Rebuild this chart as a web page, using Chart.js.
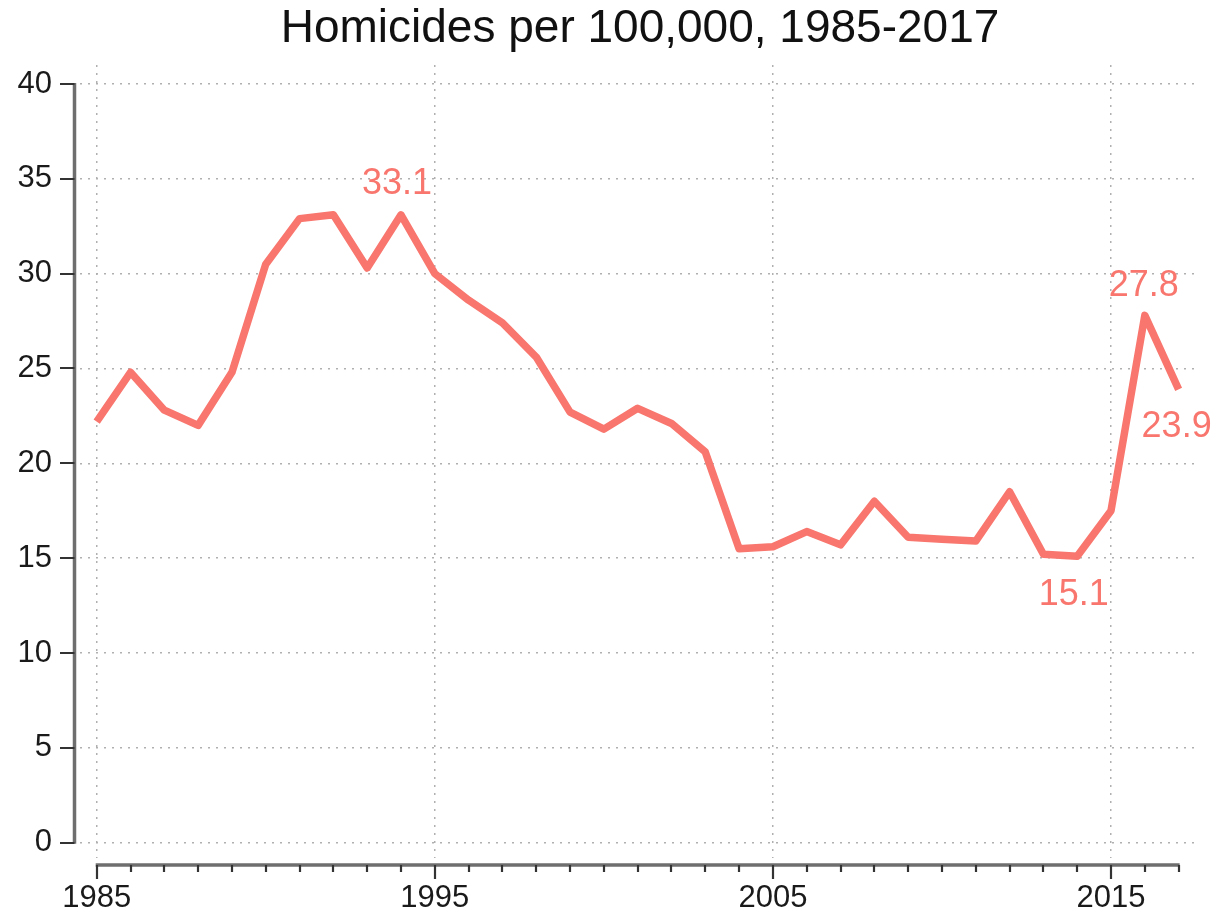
<!DOCTYPE html>
<html>
<head>
<meta charset="utf-8">
<script src="https://cdn.jsdelivr.net/npm/chart.js@4"></script>
<style>
  html, body { margin: 0; padding: 0; background: #ffffff; }
  #wrap { width: 1219px; height: 914px; }
</style>
</head>
<body>
<div id="wrap"><canvas id="c" width="1219" height="914"></canvas></div>
<script>
// ---- data ----
const titleText = "Homicides per 100,000, 1985-2017";
const years = [1985, 1986, 1987, 1988, 1989, 1990, 1991, 1992, 1993, 1994,
               1995, 1996, 1997, 1998, 1999, 2000, 2001, 2002, 2003, 2004,
               2005, 2006, 2007, 2008, 2009, 2010, 2011, 2012, 2013, 2014,
               2015, 2016, 2017];
const homicideRate = [22.2, 24.8, 22.8, 22.0, 24.8, 30.5, 32.9, 33.1, 30.3, 33.1,
                      30.0, 28.6, 27.4, 25.6, 22.7, 21.8, 22.9, 22.1, 20.6, 15.5,
                      15.6, 16.4, 15.7, 18.0, 16.1, 16.0, 15.9, 18.5, 15.2, 15.1,
                      17.5, 27.8, 23.9];
const xTickLabels = [1985, 1995, 2005, 2015];
const yTickValues = [0, 5, 10, 15, 20, 25, 30, 35, 40];
const labelledYears = [1994, 2014, 2016, 2017];

// ---- styles ----
const LINE_COLOR = '#F8766D';
const GRID_COLOR = '#b0b0b0';
const AXIS_COLOR = '#6e6e6e';
const TICK_COLOR = '#333333';
const FONT = "'Liberation Sans', Arial, Helvetica, sans-serif";
// label placement: dx (px), baseline dy (px) relative to the point
const labelPlacement = {
  1994: { dx: -4, dy: -21 },
  2014: { dx: -3.5, dy: 49 },
  2016: { dx: -1, dy: -19 },
  2017: { dx: -2, dy: 48 }
};

const rangeFramePlugin = {
  id: 'rangeFrame',
  afterDraw(chart) {
    const { ctx, chartArea } = chart;
    const xs = chart.scales.x, ys = chart.scales.y;
    ctx.save();
    // y axis line (range frame from first to last tick)
    const ax = chartArea.left - 5.5;
    const yTop = ys.getPixelForValue(yTickValues[yTickValues.length - 1]);
    const yBot = ys.getPixelForValue(yTickValues[0]);
    ctx.strokeStyle = AXIS_COLOR;
    ctx.lineWidth = 3.5;
    ctx.lineCap = 'butt';
    ctx.beginPath();
    ctx.moveTo(ax, yTop - 1);
    ctx.lineTo(ax, yBot + 1);
    ctx.stroke();
    // y ticks
    ctx.strokeStyle = TICK_COLOR;
    ctx.lineWidth = 2;
    yTickValues.forEach(v => {
      const py = Math.round(ys.getPixelForValue(v));
      ctx.beginPath();
      ctx.moveTo(60, py);
      ctx.lineTo(ax, py);
      ctx.stroke();
    });
    // x axis line
    const axisY = 865;
    const xL = xs.getPixelForValue(years[0]);
    const xR = xs.getPixelForValue(years[years.length - 1]);
    ctx.strokeStyle = AXIS_COLOR;
    ctx.lineWidth = 3.5;
    ctx.beginPath();
    ctx.moveTo(xL - 1, axisY);
    ctx.lineTo(xR + 1, axisY);
    ctx.stroke();
    // x ticks (major at labelled years, minor every year)
    ctx.strokeStyle = TICK_COLOR;
    ctx.lineWidth = 2.2;
    years.forEach(yr => {
      const px = Math.round(xs.getPixelForValue(yr));
      const major = xTickLabels.includes(yr);
      ctx.beginPath();
      ctx.moveTo(px, axisY);
      ctx.lineTo(px, axisY + (major ? 14 : 7));
      ctx.stroke();
    });
    // value labels
    ctx.fillStyle = LINE_COLOR;
    ctx.font = "36px " + FONT;
    ctx.textAlign = 'center';
    ctx.textBaseline = 'alphabetic';
    labelledYears.forEach(yr => {
      const i = years.indexOf(yr);
      const v = homicideRate[i];
      const p = labelPlacement[yr];
      const px = xs.getPixelForValue(yr);
      const py = ys.getPixelForValue(v);
      ctx.fillText(v.toFixed(1), px + p.dx, py + p.dy);
    });
    ctx.restore();
  }
};

new Chart(document.getElementById('c'), {
  type: 'line',
  data: {
    datasets: [{
      label: 'Homicides per 100,000',
      data: years.map((yr, i) => ({ x: yr, y: homicideRate[i] })),
      borderColor: LINE_COLOR,
      backgroundColor: LINE_COLOR,
      borderWidth: 7.5,
      pointRadius: 0,
      pointHoverRadius: 0,
      tension: 0,
      borderJoinStyle: 'round',
      borderCapStyle: 'butt',
      fill: false
    }]
  },
  options: {
    responsive: false,
    animation: false,
    devicePixelRatio: 1,
    layout: { padding: { left: 0, right: 19, top: 0, bottom: 0 } },
    plugins: {
      legend: { display: false },
      tooltip: { enabled: false },
      title: {
        display: true,
        fullSize: false,
        text: titleText,
        color: '#111111',
        font: { family: FONT, size: 46, weight: 'normal' },
        padding: { top: 2, bottom: 7.8 }
      }
    },
    scales: {
      x: {
        type: 'linear',
        min: 1984.506,
        max: 2017.632,
        afterBuildTicks(scale) {
          scale.ticks = xTickLabels.map(v => ({ value: v }));
        },
        afterFit(scale) { scale.height = 56; },
        ticks: {
          autoSkip: false,
          maxRotation: 0,
          padding: 22,
          color: '#1a1a1a',
          font: { family: FONT, size: 31 },
          callback: v => String(v)
        },
        grid: {
          color: GRID_COLOR,
          lineWidth: 1.5,
          drawTicks: false
        },
        border: { display: false, dash: [2, 6] }
      },
      y: {
        type: 'linear',
        min: -0.81,
        max: 41.0,
        afterBuildTicks(scale) {
          scale.ticks = yTickValues.map(v => ({ value: v }));
        },
        afterFit(scale) { scale.width = 80; },
        ticks: {
          padding: 28,
          color: '#1a1a1a',
          font: { family: FONT, size: 31 },
          callback: v => String(v)
        },
        grid: {
          color: GRID_COLOR,
          lineWidth: 1.5,
          drawTicks: false
        },
        border: { display: false, dash: [2, 6] }
      }
    }
  },
  plugins: [rangeFramePlugin]
});
</script>
</body>
</html>
